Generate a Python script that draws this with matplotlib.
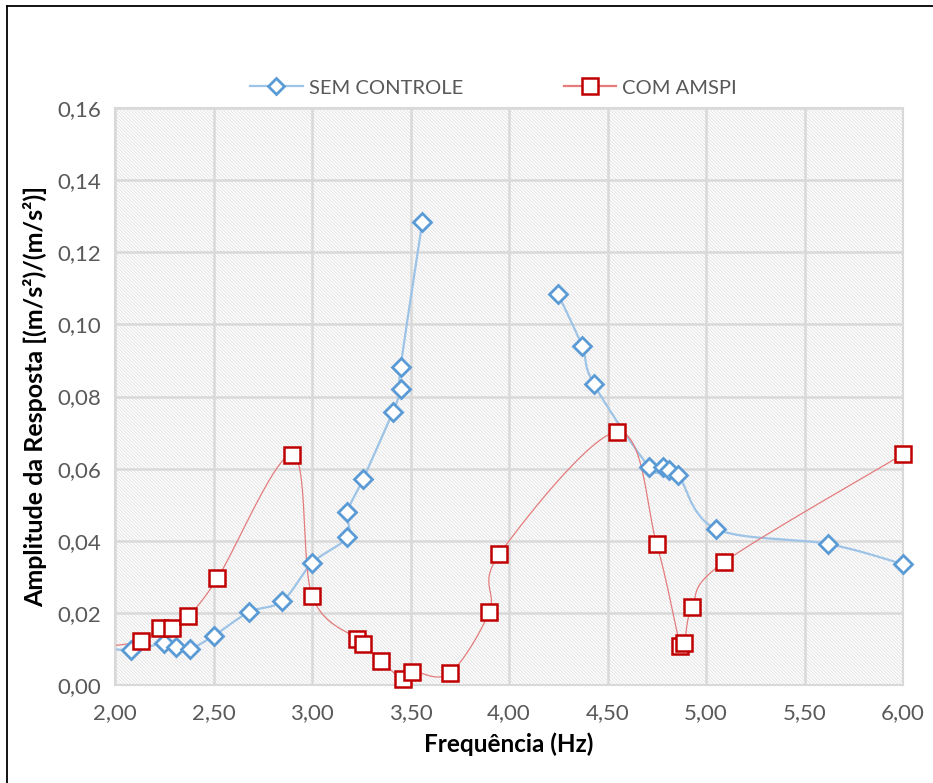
import numpy as np
import matplotlib
matplotlib.use("Agg")
import matplotlib.pyplot as plt
from matplotlib.patches import Rectangle
from matplotlib.lines import Line2D

plt.rcParams['font.family'] = ['Lato', 'DejaVu Sans']
plt.rcParams['hatch.color'] = '#e0e0e0'
plt.rcParams['hatch.linewidth'] = 0.6

# ---------------- data ----------------
sem_x_a = [1.92, 2.08, 2.25, 2.31, 2.38, 2.50, 2.68, 2.85, 3.00, 3.18, 3.18, 3.26, 3.41, 3.45, 3.45, 3.56]
sem_y_a = [0.0105, 0.0097, 0.0116, 0.0105, 0.0100, 0.0136, 0.0202, 0.0233, 0.0338, 0.0410, 0.0480, 0.0572, 0.0757, 0.0822, 0.0882, 0.1284]
sem_x_b = [4.25, 4.37, 4.43, 4.71, 4.78, 4.81, 4.86, 5.05, 5.62, 6.00]
sem_y_b = [0.1083, 0.0941, 0.0835, 0.0605, 0.0604, 0.0596, 0.0583, 0.0433, 0.0391, 0.0335]

com_x = [1.92, 2.13, 2.23, 2.29, 2.37, 2.52, 2.90, 3.00, 3.23, 3.26, 3.35, 3.46, 3.51, 3.70, 3.90, 3.95,
         4.55, 4.75, 4.87, 4.89, 4.93, 5.09, 6.00]
com_y = [0.0105, 0.0121, 0.0158, 0.0158, 0.0190, 0.0296, 0.0639, 0.0248, 0.0128, 0.0115, 0.0066, 0.0018, 0.0037, 0.0033, 0.0203, 0.0362,
         0.0702, 0.0390, 0.0107, 0.0117, 0.0217, 0.0340, 0.0640]

xticks = [2.0, 2.5, 3.0, 3.5, 4.0, 4.5, 5.0, 5.5, 6.0]
yticks = [0.0, 0.02, 0.04, 0.06, 0.08, 0.10, 0.12, 0.14, 0.16]

BLUE = '#5B9BD5'
BLUE_LINE = '#9DC3E6'
RED = '#C00000'
RED_LINE = '#E47C7C'
GRAY_TXT = '#595959'
GRID = '#d9d9d9'

fig = plt.figure(figsize=(9.33, 7.83), dpi=100)
ax = fig.add_axes([115/933, 1-685/783, (903-115)/933, (685-108)/783])
ax.set_xlim(2.0, 6.0)
ax.set_ylim(0.0, 0.16)

# hatched plot-area background
bg = Rectangle((0, 0), 1, 1, transform=ax.transAxes, facecolor='white',
               edgecolor='#e0e0e0', hatch='\\' * 10, linewidth=0, zorder=0.1)
ax.add_patch(bg)

ax.set_axisbelow(True)
ax.grid(True, color=GRID, linewidth=1.8, zorder=0.5)
for s in ax.spines.values():
    s.set_color(GRID)
    s.set_linewidth(1.5)

ax.set_xticks(xticks)
ax.set_yticks(yticks)
ax.set_xticklabels([f"{v:.2f}".replace('.', ',') for v in xticks])
ax.set_yticklabels([f"{v:.2f}".replace('.', ',') for v in yticks])
ax.tick_params(length=0, labelsize=16, labelcolor=GRAY_TXT, pad=13)
ax.tick_params(axis='y', pad=10)


def smooth(xs, ys, n=30):
    # Excel-style smoothed line (cardinal Bezier) computed in pixel space
    sx = (903 - 115) / 4.0
    sy = (685 - 108) / 0.16
    P = np.column_stack([np.asarray(xs) * sx, np.asarray(ys) * sy])
    out = [P[0]]
    m = len(P)
    t = np.linspace(0, 1, n)[1:, None]
    for i in range(m - 1):
        p0 = P[i - 1] if i > 0 else P[i]
        p1 = P[i]
        p2 = P[i + 1]
        p3 = P[i + 2] if i + 2 < m else P[i + 1]
        c1 = p1 + (p2 - p0) / 6.0
        c2 = p2 - (p3 - p1) / 6.0
        seg = ((1 - t) ** 3) * p1 + 3 * ((1 - t) ** 2) * t * c1 + 3 * (1 - t) * t ** 2 * c2 + t ** 3 * p2
        out.extend(seg)
    out = np.array(out)
    return out[:, 0] / sx, out[:, 1] / sy


# lines
bx, by = smooth(sem_x_a, sem_y_a)
ax.plot(bx, by, color=BLUE_LINE, lw=1.6, zorder=2)
bx, by = smooth(sem_x_b, sem_y_b)
ax.plot(bx, by, color=BLUE_LINE, lw=1.6, zorder=2)
rx, ry = smooth(com_x, com_y)
ax.plot(rx, ry, color=RED_LINE, lw=0.9, zorder=2)

# markers (the first point lies left of the axis range and only feeds the line)
ax.plot(sem_x_a[1:], sem_y_a[1:], ls='none', marker='D', ms=9, mfc='white', mec=BLUE, mew=2.0,
        zorder=3, clip_on=False)
ax.plot(sem_x_b, sem_y_b, ls='none', marker='D', ms=9, mfc='white', mec=BLUE, mew=2.0,
        zorder=3, clip_on=False)
ax.plot(com_x[1:], com_y[1:], ls='none', marker='s', ms=12, mfc='white', mec=RED, mew=1.8,
        zorder=4, clip_on=False)

ax.set_xlabel('Frequência (Hz)', fontsize=17.5, fontweight='bold', color='black', labelpad=7)
ax.set_ylabel('Amplitude da Resposta [(m/s²)/(m/s²)]', fontsize=18, fontweight='bold',
              color='black', labelpad=7)

# legend
h1 = Line2D([], [], color=BLUE_LINE, lw=1.6, marker='D', ms=8, mfc='white', mec=BLUE, mew=2.0)
h2 = Line2D([], [], color=RED_LINE, lw=1.6, marker='s', ms=11, mfc='white', mec=RED, mew=1.8)
fig.legend([h1, h2], ['SEM CONTROLE', 'COM AMSPI'], loc='center', bbox_to_anchor=(0.529, 1 - 88/783),
           ncol=2, frameon=False, fontsize=14.5, labelcolor=GRAY_TXT, handlelength=2.6,
           columnspacing=5.0, handletextpad=0.3)

# chart border (left & top visible)
fig.add_artist(Line2D([7/933, 7/933], [0, 1 - 6/783], color='black', lw=1.3, transform=fig.transFigure))
fig.add_artist(Line2D([7/933, 1], [1 - 6/783, 1 - 6/783], color='black', lw=1.3, transform=fig.transFigure))

fig.savefig('out.png', dpi=100)
